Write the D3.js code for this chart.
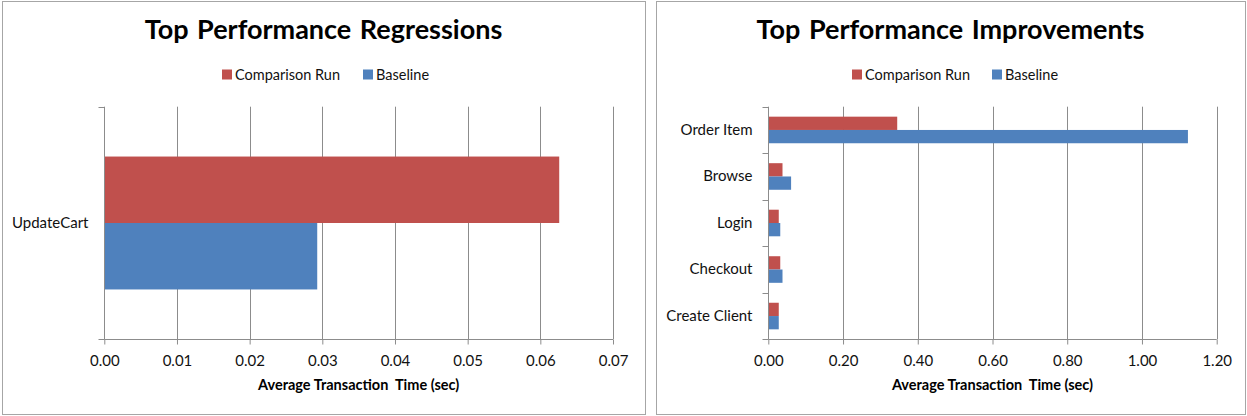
<!DOCTYPE html>
<html><head><meta charset="utf-8">
<script src="https://cdn.jsdelivr.net/npm/d3@7"></script>
<style>
body{margin:0;background:#fff;}
svg{display:block;font-family:Lato,"Open Sans",sans-serif;}
</style></head>
<body>
<svg id="chart" width="1247" height="416"></svg>
<script>
// ---- data ----
const seriesNames = ["Comparison Run", "Baseline"];
const seriesColors = ["#C0504D", "#4F81BD"];

const regTitle = "Top Performance Regressions";
const regCategories = ["UpdateCart"];
const regComparison = [0.0626];
const regBaseline = [0.0293];
const regTicks = [0, 0.01, 0.02, 0.03, 0.04, 0.05, 0.06, 0.07];

const impTitle = "Top Performance Improvements";
const impCategories = ["Order Item", "Browse", "Login", "Checkout", "Create Client"];
const impComparison = [0.345, 0.038, 0.028, 0.032, 0.028];
const impBaseline = [1.123, 0.061, 0.032, 0.038, 0.028];
const impTicks = [0, 0.2, 0.4, 0.6, 0.8, 1.0, 1.2];

const xAxisTitle = "Average Transaction  Time (sec)";

const svg = d3.select("#chart");

function drawPanel(cfg) {
  const g = svg.append("g");
  // frame
  g.append("rect").attr("x", cfg.px + 0.5).attr("y", 1.5)
    .attr("width", cfg.pw).attr("height", 413)
    .attr("fill", "#fff").attr("stroke", "#a6a6a6").attr("stroke-width", 1);

  const cx = cfg.px + cfg.pw / 2;
  g.append("text").attr("x", cx).attr("y", 39).attr("text-anchor", "middle")
    .attr("font-size", 27).attr("font-weight", "bold").attr("fill", "#000")
    .attr("word-spacing", 2)
    .text(cfg.title);

  // legend
  const leg = g.append("g").attr("font-size", 14.5).attr("fill", "#111");
  let lx = cfg.legendX;
  seriesNames.forEach((name, i) => {
    leg.append("rect").attr("x", lx).attr("y", 69.5).attr("width", 10).attr("height", 10)
      .attr("fill", seriesColors[i]);
    leg.append("text").attr("x", lx + 13).attr("y", 80).text(name);
    lx = cfg.legendX2;
  });

  const x = d3.scaleLinear().domain([cfg.ticks[0], cfg.ticks[cfg.ticks.length - 1]])
    .range([cfg.x0, cfg.x1]);
  const y = d3.scaleBand().domain(cfg.categories).range([cfg.top, cfg.bottom])
    .paddingInner(0).paddingOuter(0);
  const sub = d3.scaleBand().domain([0, 1]).range([0, y.bandwidth()])
    .paddingOuter(0.75).paddingInner(0);

  // gridlines
  g.append("g").selectAll("line").data(cfg.ticks.slice(1)).join("line")
    .attr("x1", d => Math.round(x(d)) + 0.5).attr("x2", d => Math.round(x(d)) + 0.5)
    .attr("y1", cfg.top).attr("y2", cfg.bottom)
    .attr("stroke", "#8c8c8c").attr("stroke-width", 1);

  // bars
  const vals = [cfg.comparison, cfg.baseline];
  const barData = [];
  cfg.categories.forEach((c, i) => {
    vals.forEach((arr, s) => barData.push({ c, s, v: arr[i] }));
  });
  g.append("g").selectAll("rect").data(barData).join("rect")
    .attr("x", x(0))
    .attr("y", d => y(d.c) + sub(d.s))
    .attr("width", d => x(d.v) - x(0))
    .attr("height", sub.bandwidth())
    .attr("fill", d => seriesColors[d.s]);

  // x axis
  const xAxis = d3.axisBottom(x).tickValues(cfg.ticks).tickSize(5).tickPadding(11)
    .tickFormat(d3.format(cfg.fmt));
  const xa = g.append("g").attr("transform", `translate(0,${Math.round(cfg.bottom) + 0.5})`).call(xAxis);
  xa.select(".domain").attr("stroke", "#8c8c8c").attr("d", `M${x.range()[0]},0H${x.range()[1]}`);
  xa.selectAll(".tick line").attr("stroke", "#8c8c8c");
  xa.selectAll("text").attr("font-size", 15).attr("fill", "#111").attr("font-family", "Lato,sans-serif");

  // y axis
  const yAxis = d3.axisLeft(y).tickSize(0).tickPadding(16);
  const ya = g.append("g").attr("transform", `translate(${Math.round(cfg.x0) + 0.5},0)`).call(yAxis);
  ya.select(".domain").attr("stroke", "#8c8c8c").attr("d", `M0,${cfg.top}V${cfg.bottom}`);
  ya.selectAll("text").attr("font-size", 15).attr("fill", "#111").attr("font-family", "Lato,sans-serif");
  // category boundary ticks
  const bounds = cfg.categories.map(c => y(c)).concat([cfg.bottom]);
  ya.append("g").selectAll("line").data(bounds).join("line")
    .attr("x1", -6).attr("x2", 0)
    .attr("y1", d => Math.round(d) + 0.5).attr("y2", d => Math.round(d) + 0.5)
    .attr("stroke", "#8c8c8c");

  // axis title
  g.append("text").attr("x", (cfg.x0 + cfg.x1) / 2).attr("y", 390)
    .attr("text-anchor", "middle").attr("font-size", 14.5).attr("font-weight", "bold")
    .attr("fill", "#000").style("white-space", "pre")
    .text(xAxisTitle);
}

drawPanel({
  px: 2, pw: 643, title: regTitle, categories: regCategories,
  comparison: regComparison, baseline: regBaseline, ticks: regTicks, fmt: ".2f",
  x0: 104.3, x1: 613, top: 106.7, bottom: 339.3, legendX: 222, legendX2: 363
});
drawPanel({
  px: 656, pw: 589, title: impTitle, categories: impCategories,
  comparison: impComparison, baseline: impBaseline, ticks: impTicks, fmt: ".2f",
  x0: 768.3, x1: 1216.7, top: 106.7, bottom: 339.3, legendX: 852, legendX2: 992
});
</script>
</body></html>
